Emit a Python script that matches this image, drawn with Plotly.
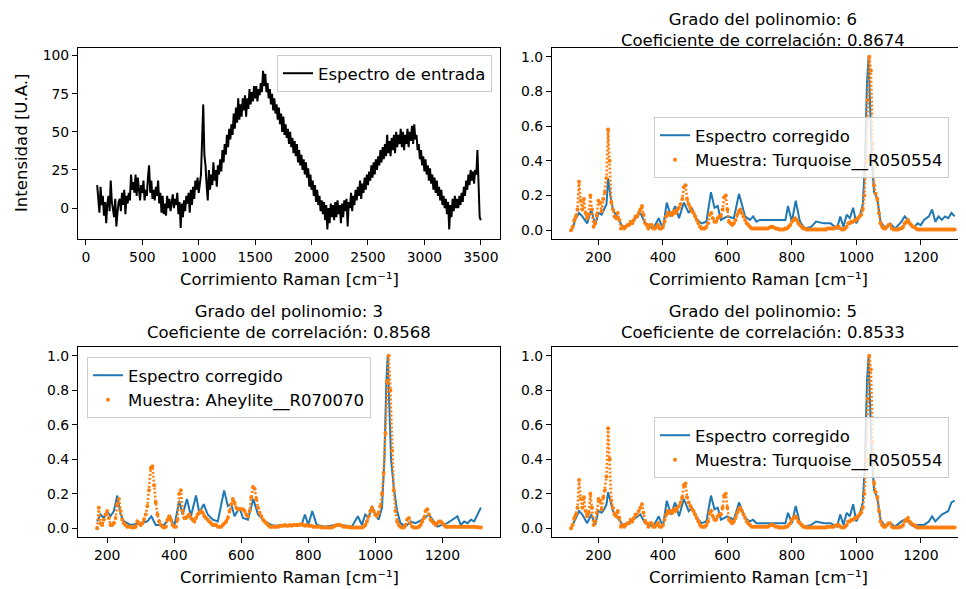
import plotly.graph_objects as go

# Espectro de entrada (cada 10 cm-1 desde 100 hasta 3500)
entrada_x0 = 100
entrada_paso = 10
entrada_y = [
    15, 5, -3, 14, 2, 8, -5, 4, -10, 3,
    8, -2, 18, 4, 0, -6, 6, -12, -3, 4,
    6, -2, 10, 2, 12, -4, 8, 3, 10, 5,
    22, 12, 17, 10, 22, 8, 20, 12, 5, 15,
    10, 18, 5, 12, 8, 20, 28, 10, 18, 6,
    12, 5, 14, 8, 18, 3, 10, -3, 8, -4,
    3, -5, 8, 0, 6, -2, 4, 9, 0, 6,
    2, 10, -4, 4, -13, 3, -6, 5, -2, 8,
    3, 10, -3, 12, 2, 14, 6, 18, 12, 20,
    10, 15, 22, 45, 68, 35, 28, 15, 5, 25,
    12, 22, 15, 30, 18, 25, 14, 28, 22, 32,
    24, 38, 30, 42, 35, 48, 40, 52, 45, 55,
    48, 62, 52, 66, 56, 72, 58, 68, 60, 72,
    64, 74, 60, 72, 65, 78, 68, 76, 70, 80,
    72, 80, 70, 78, 74, 82, 76, 90, 80, 88,
    76, 82, 72, 78, 68, 75, 64, 72, 62, 68,
    58, 66, 55, 62, 50, 60, 48, 55, 46, 52,
    42, 50, 40, 46, 36, 44, 34, 42, 30, 38,
    28, 35, 25, 32, 22, 30, 20, 26, 14, 22,
    12, 18, 8, 15, 4, 12, 2, 8, -2, 5,
    -4, 4, -8, 2, -14, 0, -10, 3, -6, 2,
    -8, 4, -6, 5, -4, 2, -10, 3, -6, 5,
    -2, 6, -12, 4, 0, 10, -2, 8, 2, 12,
    5, 14, 8, 18, 6, 16, 10, 20, 12, 22,
    15, 24, 18, 28, 20, 30, 22, 32, 25, 34,
    28, 38, 30, 40, 32, 42, 34, 48, 36, 44,
    34, 46, 38, 48, 36, 50, 40, 48, 42, 52,
    40, 50, 38, 48, 42, 52, 40, 50, 44, 54,
    42, 55, 45, 48, 38, 42, 32, 38, 28, 34,
    24, 32, 22, 28, 18, 26, 16, 22, 12, 20,
    10, 18, 8, 14, 5, 12, 2, 8, 0, 6,
    -4, 4, -14, 2, -6, 6, -2, 8, 0, 6,
    0, 8, 2, 10, 4, 14, 8, 18, 12, 22,
    15, 25, 18, 24, 16, 25, 22, 38, 20, -6,
    -8,
]

# Muestra Turquoise__R050554 (cada 5 cm-1 desde 115)
turq_x0 = 115
turq_y = [
    0.00, 0.02, 0.06, 0.08, 0.12, 0.28, 0.17, 0.12, 0.18, 0.10,
    0.07, 0.09, 0.20, 0.12, 0.02, 0.04, 0.09, 0.17, 0.16, 0.11,
    0.18, 0.22, 0.30, 0.58, 0.40, 0.16, 0.12, 0.08, 0.07, 0.10,
    0.06, 0.01, 0.02, 0.01, 0.02, 0.03, 0.03, 0.05, 0.04, 0.06,
    0.08, 0.08, 0.10, 0.12, 0.14, 0.09, 0.04, 0.03, 0.01, 0.03,
    0.03, 0.01, 0.01, 0.02, 0.03, 0.01, 0.01, 0.02, 0.05, 0.08,
    0.10, 0.09, 0.10, 0.09, 0.11, 0.10, 0.12, 0.13, 0.15, 0.18,
    0.25, 0.26, 0.18, 0.15, 0.13, 0.11, 0.10, 0.08, 0.06, 0.04,
    0.02, 0.01, 0.01, 0.01, 0.02, 0.04, 0.09, 0.10, 0.07, 0.05,
    0.05, 0.07, 0.08, 0.08, 0.12, 0.19, 0.20, 0.12, 0.05, 0.04,
    0.03, 0.04, 0.06, 0.09, 0.11, 0.12, 0.10, 0.08, 0.06, 0.04,
    0.03, 0.02, 0.01, 0.01, 0.01, 0.01, 0.01, 0.01, 0.01, 0.01,
    0.01, 0.01, 0.01, 0.015, 0.02, 0.02, 0.015, 0.01, 0.01, 0.005,
    0.005, 0.005, 0.005, 0.01, 0.01, 0.02, 0.03, 0.05, 0.06, 0.07,
    0.06, 0.04, 0.03, 0.02, 0.01, 0.01, 0.005, 0.005, 0.005, 0.005,
    0.005, 0.005, 0.005, 0.005, 0.005, 0.005, 0.005, 0.005, 0.005, 0.01,
    0.01, 0.01, 0.01, 0.01, 0.015, 0.02, 0.02, 0.01, 0.005, 0.005,
    0.01, 0.02, 0.04, 0.04, 0.05, 0.05, 0.06, 0.06, 0.07, 0.08,
    0.09, 0.12, 0.20, 0.40, 0.75, 1.00, 0.92, 0.50, 0.26, 0.21,
    0.18, 0.10, 0.04, 0.02, 0.01, 0.01, 0.02, 0.03, 0.03, 0.01,
    0.005, 0.005, 0.005, 0.005, 0.01, 0.01, 0.02, 0.04, 0.05, 0.06,
    0.04, 0.03, 0.02, 0.02, 0.01, 0.005, 0.005, 0.005, 0.005, 0.005,
    0.005, 0.005, 0.005, 0.005, 0.005, 0.005, 0.005, 0.005, 0.005, 0.005,
    0.005, 0.005, 0.005, 0.005, 0.005, 0.005, 0.005, 0.005, 0.005,
]

# Muestra Aheylite__R070070 (cada 5 cm-1 desde 170)
ahey_x0 = 170
ahey_y = [
    0.00, 0.12, 0.03, 0.02, 0.05, 0.08, 0.10, 0.06, 0.02, 0.02,
    0.03, 0.06, 0.14, 0.17, 0.10, 0.05, 0.03, 0.02, 0.01, 0.01,
    0.01, 0.005, 0.005, 0.01, 0.04, 0.03, 0.02, 0.03, 0.05, 0.08,
    0.13, 0.22, 0.35, 0.36, 0.25, 0.15, 0.08, 0.04, 0.02, 0.01,
    0.005, 0.01, 0.05, 0.07, 0.05, 0.02, 0.01, 0.01, 0.05, 0.20,
    0.22, 0.10, 0.06, 0.06, 0.07, 0.08, 0.06, 0.05, 0.04, 0.06,
    0.08, 0.09, 0.10, 0.09, 0.07, 0.06, 0.05, 0.04, 0.03, 0.02,
    0.02, 0.02, 0.01, 0.01, 0.01, 0.02, 0.03, 0.04, 0.06, 0.10,
    0.14, 0.17, 0.15, 0.12, 0.11, 0.11, 0.11, 0.11, 0.10, 0.08,
    0.07, 0.10, 0.18, 0.24, 0.23, 0.17, 0.12, 0.09, 0.07, 0.05,
    0.04, 0.03, 0.02, 0.01, 0.01, 0.01, 0.01, 0.01, 0.01, 0.015,
    0.015, 0.015, 0.02, 0.015, 0.015, 0.02, 0.015, 0.02, 0.02, 0.02,
    0.02, 0.02, 0.025, 0.02, 0.015, 0.02, 0.015, 0.015, 0.015, 0.01,
    0.01, 0.01, 0.01, 0.01, 0.005, 0.005, 0.005, 0.005, 0.005, 0.005,
    0.005, 0.01, 0.015, 0.02, 0.02, 0.02, 0.015, 0.01, 0.01, 0.01,
    0.01, 0.005, 0.005, 0.005, 0.005, 0.005, 0.005, 0.005, 0.005, 0.01,
    0.02, 0.04, 0.07, 0.10, 0.12, 0.10, 0.08, 0.07, 0.09, 0.13,
    0.20, 0.32, 0.55, 0.85, 1.00, 0.80, 0.45, 0.22, 0.10, 0.04,
    0.02, 0.01, 0.005, 0.005, 0.02, 0.05, 0.06, 0.03, 0.01, 0.005,
    0.005, 0.005, 0.01, 0.02, 0.04, 0.06, 0.10, 0.11, 0.08, 0.05,
    0.04, 0.03, 0.02, 0.03, 0.04, 0.04, 0.03, 0.02, 0.01, 0.01,
    0.01, 0.01, 0.01, 0.01, 0.01, 0.01, 0.01, 0.01, 0.01, 0.01,
    0.01, 0.01, 0.01, 0.01, 0.01, 0.01, 0.008, 0.006, 0.005, 0.005,
]

# Espectros corregidos (x, intensidad)
corr_grado6 = [
    (118, 0.00), (125, 0.04), (130, 0.07), (140, 0.10), (150, 0.08), (165, 0.04),
    (178, 0.12), (190, 0.03), (200, 0.10), (210, 0.09), (218, 0.12), (225, 0.15),
    (230, 0.30), (237, 0.20), (245, 0.12), (260, 0.07), (275, 0.02), (290, 0.03),
    (300, 0.04), (315, 0.07), (330, 0.10), (345, 0.04), (360, 0.02), (370, 0.01),
    (387, 0.07), (400, 0.01), (412, 0.16), (425, 0.08), (438, 0.14), (450, 0.07),
    (465, 0.16), (480, 0.10), (490, 0.13), (505, 0.06), (520, 0.04), (535, 0.05),
    (549, 0.22), (560, 0.13), (570, 0.14), (580, 0.06), (600, 0.08), (620, 0.07),
    (636, 0.21), (655, 0.08), (670, 0.06), (680, 0.08), (690, 0.05), (700, 0.06),
    (720, 0.06), (760, 0.06), (780, 0.06), (788, 0.14), (800, 0.05), (812, 0.17),
    (825, 0.05), (840, 0.01), (860, 0.02), (875, 0.05), (900, 0.04), (920, 0.04),
    (940, 0.01), (950, 0.08), (960, 0.02), (970, 0.09), (980, 0.07), (990, 0.13),
    (1000, 0.04), (1010, 0.08), (1020, 0.15), (1027, 0.40), (1033, 0.85), (1038, 1.00),
    (1043, 0.70), (1048, 0.40), (1055, 0.22), (1065, 0.18), (1075, 0.05), (1090, 0.01),
    (1105, 0.04), (1120, 0.01), (1140, 0.05), (1150, 0.08), (1160, 0.06), (1170, 0.03),
    (1180, 0.02), (1190, 0.04), (1200, 0.03), (1210, 0.06), (1225, 0.08), (1235, 0.12),
    (1245, 0.05), (1255, 0.08), (1265, 0.06), (1275, 0.08), (1285, 0.07), (1295, 0.10),
    (1305, 0.08),
]

corr_grado5 = [
    (115, 0.00), (125, 0.04), (130, 0.07), (140, 0.10), (150, 0.08), (165, 0.03),
    (178, 0.08), (190, 0.02), (200, 0.10), (210, 0.09), (218, 0.11), (225, 0.14),
    (230, 0.21), (237, 0.15), (245, 0.10), (260, 0.06), (275, 0.02), (290, 0.03),
    (300, 0.04), (315, 0.06), (330, 0.08), (345, 0.03), (360, 0.02), (370, 0.01),
    (387, 0.07), (400, 0.01), (412, 0.16), (425, 0.08), (438, 0.15), (450, 0.07),
    (465, 0.17), (480, 0.10), (490, 0.12), (505, 0.06), (520, 0.03), (535, 0.04),
    (549, 0.19), (560, 0.11), (570, 0.12), (580, 0.05), (600, 0.07), (620, 0.05),
    (636, 0.15), (655, 0.06), (670, 0.04), (680, 0.05), (690, 0.03), (700, 0.03),
    (720, 0.03), (760, 0.03), (780, 0.03), (788, 0.09), (800, 0.03), (812, 0.13),
    (825, 0.03), (840, 0.01), (860, 0.02), (875, 0.04), (900, 0.03), (920, 0.03),
    (940, 0.01), (950, 0.08), (960, 0.02), (970, 0.09), (980, 0.07), (990, 0.14),
    (1000, 0.04), (1010, 0.08), (1020, 0.15), (1027, 0.40), (1033, 0.85), (1038, 1.00),
    (1043, 0.70), (1048, 0.40), (1055, 0.22), (1065, 0.18), (1075, 0.05), (1090, 0.01),
    (1105, 0.03), (1120, 0.01), (1140, 0.04), (1150, 0.05), (1160, 0.04), (1170, 0.02),
    (1180, 0.01), (1190, 0.02), (1200, 0.02), (1210, 0.02), (1225, 0.04), (1235, 0.07),
    (1245, 0.04), (1255, 0.06), (1265, 0.08), (1275, 0.09), (1285, 0.10), (1295, 0.15),
    (1305, 0.16),
]

corr_grado3 = [
    (170, 0.04), (180, 0.08), (190, 0.06), (200, 0.10), (210, 0.07), (220, 0.10),
    (230, 0.19), (240, 0.08), (250, 0.04), (270, 0.02), (300, 0.03), (320, 0.04),
    (332, 0.07), (345, 0.02), (370, 0.02), (388, 0.07), (400, 0.01), (415, 0.16),
    (425, 0.08), (438, 0.17), (450, 0.07), (465, 0.19), (475, 0.09), (488, 0.14),
    (500, 0.08), (515, 0.05), (530, 0.04), (549, 0.22), (560, 0.13), (570, 0.14),
    (580, 0.07), (595, 0.12), (605, 0.06), (620, 0.05), (636, 0.17), (650, 0.08),
    (670, 0.04), (690, 0.02), (700, 0.015), (740, 0.02), (780, 0.02), (790, 0.08),
    (800, 0.02), (812, 0.10), (825, 0.02), (850, 0.01), (880, 0.02), (900, 0.02),
    (930, 0.01), (948, 0.07), (960, 0.02), (970, 0.08), (980, 0.06), (990, 0.13),
    (1000, 0.08), (1010, 0.05), (1020, 0.12), (1027, 0.40), (1033, 0.85), (1037, 1.00),
    (1042, 0.70), (1047, 0.40), (1055, 0.24), (1065, 0.10), (1075, 0.03), (1090, 0.01),
    (1105, 0.04), (1120, 0.03), (1140, 0.05), (1160, 0.08), (1175, 0.04), (1185, 0.01),
    (1200, 0.02), (1215, 0.03), (1230, 0.05), (1245, 0.07), (1255, 0.02), (1265, 0.04),
    (1275, 0.03), (1285, 0.05), (1295, 0.04), (1305, 0.08), (1315, 0.12),
]

grados = ["6", "3", "5"]
coeficientes = ["0.8674", "0.8568", "0.8533"]

AZUL = "#1f77b4"
NARANJA = "#ff7f0e"
FUENTE = "DejaVu Sans"
FS_TICK = 13.9
FS = 16.5
W, H = 966, 589
OFF = 8  # margen por defecto del <body> en la pagina


def px_x(p):
    return (p - OFF) / W


def px_y(p):
    return 1 - (p - OFF) / H


entrada_x = [entrada_x0 + entrada_paso * i for i in range(len(entrada_y))]
turq_x = [turq_x0 + 5 * i for i in range(len(turq_y))]
ahey_x = [ahey_x0 + 5 * i for i in range(len(ahey_y))]

fig = go.Figure()

fig.add_trace(go.Scatter(x=entrada_x, y=entrada_y, mode="lines",
                         line=dict(color="black", width=2),
                         name="Espectro de entrada", showlegend=True,
                         xaxis="x", yaxis="y", legend="legend"))

paneles = [
    (corr_grado6, turq_x, turq_y, "Turquoise__R050554", "x2", "y2", "legend2"),
    (corr_grado3, ahey_x, ahey_y, "Aheylite__R070070", "x3", "y3", "legend3"),
    (corr_grado5, turq_x, turq_y, "Turquoise__R050554", "x4", "y4", "legend4"),
]
for corr, mx, my, nombre, xa, ya, lg in paneles:
    fig.add_trace(go.Scatter(x=[p[0] for p in corr], y=[p[1] for p in corr], mode="lines",
                             line=dict(color=AZUL, width=2),
                             name="Espectro corregido", showlegend=True,
                             xaxis=xa, yaxis=ya, legend=lg))
    # puntos de la muestra: trazo punteado fino que rellena los flancos de los picos
    fig.add_trace(go.Scatter(x=mx, y=my, mode="lines",
                             line=dict(color=NARANJA, width=2.6, dash="2px,2px"),
                             showlegend=False, hoverinfo="skip",
                             xaxis=xa, yaxis=ya, legend=lg))
    fig.add_trace(go.Scatter(x=mx, y=my, mode="markers",
                             marker=dict(color=NARANJA, size=4),
                             name="Muestra: " + nombre, showlegend=True,
                             xaxis=xa, yaxis=ya, legend=lg))

eje = dict(showline=True, linecolor="black", linewidth=1.1, mirror=True,
           ticks="outside", ticklen=5, tickwidth=1.1, tickcolor="black",
           showgrid=False, zeroline=False,
           tickfont=dict(family=FUENTE, size=FS_TICK, color="black"))

izq = [px_x(78), px_x(500)]
der = [px_x(552), px_x(965)]
arriba = [px_y(239), px_y(48)]
abajo = [px_y(537), px_y(347)]
ticks_y = [0, 0.2, 0.4, 0.6, 0.8, 1.0]
ticks_x = list(range(200, 1201, 200))

fig.update_layout(
    xaxis=dict(eje, domain=izq, anchor="y", range=[-70, 3670], tickvals=list(range(0, 3501, 500))),
    yaxis=dict(eje, domain=arriba, anchor="x", range=[-20.3, 105], tickvals=[0, 25, 50, 75, 100]),
    xaxis2=dict(eje, domain=der, anchor="y2", range=[56, 1337], tickvals=ticks_x),
    yaxis2=dict(eje, domain=arriba, anchor="x2", range=[-0.05, 1.05], tickvals=ticks_y, tickformat=".1f"),
    xaxis3=dict(eje, domain=izq, anchor="y3", range=[113, 1372], tickvals=ticks_x),
    yaxis3=dict(eje, domain=abajo, anchor="x3", range=[-0.05, 1.05], tickvals=ticks_y, tickformat=".1f"),
    xaxis4=dict(eje, domain=der, anchor="y4", range=[56, 1337], tickvals=ticks_x),
    yaxis4=dict(eje, domain=abajo, anchor="x4", range=[-0.05, 1.05], tickvals=ticks_y, tickformat=".1f"),
)

leyenda = dict(bgcolor="rgba(255,255,255,0.8)", bordercolor="#cccccc", borderwidth=1,
               font=dict(family=FUENTE, size=FS, color="black"), yanchor="top")
fig.update_layout(
    showlegend=True,
    legend=dict(leyenda, x=px_x(492), xanchor="right", y=px_y(55)),
    legend2=dict(leyenda, x=px_x(654), xanchor="left", y=px_y(117)),
    legend3=dict(leyenda, x=px_x(87), xanchor="left", y=px_y(357)),
    legend4=dict(leyenda, x=px_x(654), xanchor="left", y=px_y(417)),
)

texto = dict(family=FUENTE, size=FS, color="black")
anot = []
# titulos de dos lineas: (centro x, borde superior) en pixeles de pantalla
centros = [(763, 8), (289, 300), (763, 300)]
for grado, coef, (cx, ytop) in zip(grados, coeficientes, centros):
    anot.append(dict(text="Grado del polinomio: " + grado + "<br>Coeficiente de correlación: " + coef,
                     x=px_x(cx), y=px_y(ytop), yanchor="top"))
for cx, cy in [(289, 280), (758, 280), (289, 577), (758, 577)]:
    anot.append(dict(text="Corrimiento Raman [cm⁻¹]", x=px_x(cx), y=px_y(cy), yanchor="middle"))
anot.append(dict(text="Intensidad [U.A.]", x=px_x(21), y=px_y(143), textangle=-90, yanchor="middle"))
for a in anot:
    a.update(xref="paper", yref="paper", showarrow=False,
             xanchor="center", font=texto)

fig.update_layout(
    width=W, height=H,
    margin=dict(l=0, r=0, t=0, b=0),
    paper_bgcolor="white", plot_bgcolor="white",
    font=texto,
    annotations=anot,
)

fig.write_html("out.html")
